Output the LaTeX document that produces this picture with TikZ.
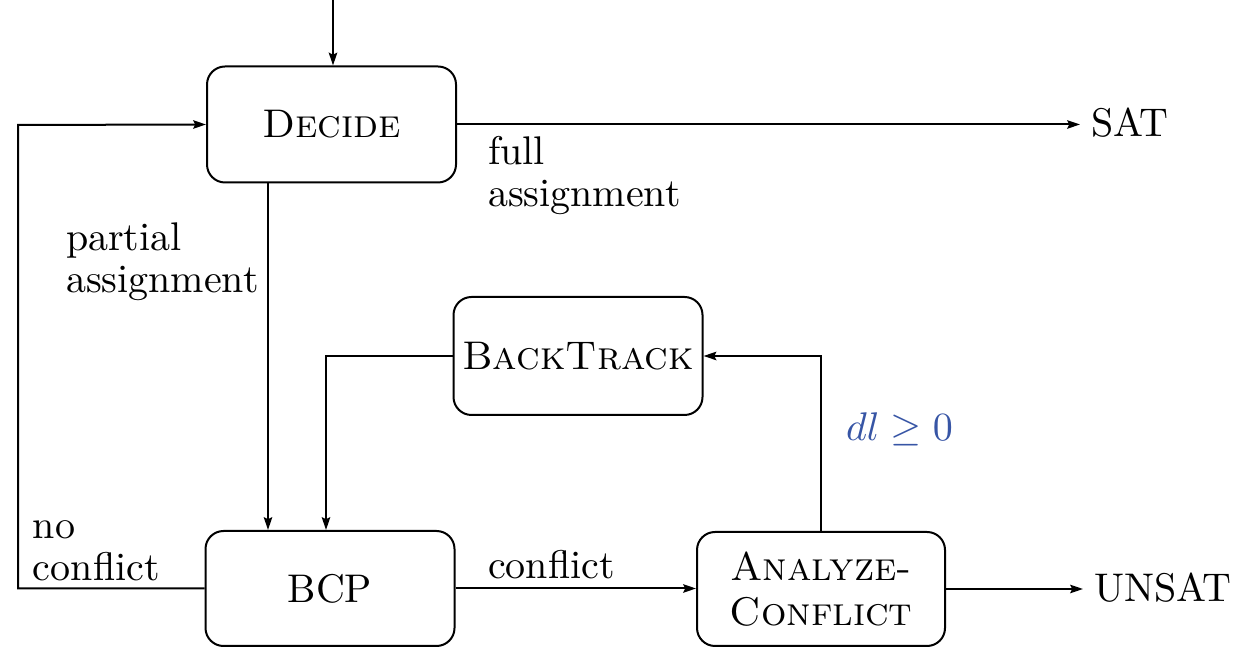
\documentclass[tikz,border=0pt]{standalone}
\usetikzlibrary{arrows.meta}
\definecolor{condblue}{RGB}{55,85,165}
\begin{document}
\begin{tikzpicture}[x=0.25pt,y=-0.25pt,
  line width=0.5pt,
  font=\fontsize{10}{10.5}\selectfont,
  flow/.style={-{Stealth[length=3.2pt,width=2.1pt,inset=0.5pt]}},
  stage/.style={draw,rounded corners=4.5pt,inner sep=0pt,align=center,
    minimum width=62.25pt,minimum height=29pt},
  lbl/.style={anchor=north west,inner sep=0pt,align=left},
  outcome/.style={anchor=west,inner sep=2.5pt}]
\useasboundingbox (0,0) rectangle (1237,648);

% solver stages
\node[stage] (decide) at (331.5,124.5) {\textsc{Decide}};
\node[stage,minimum height=29.5pt] (bt) at (578,356) {\textsc{BackTrack}};
\node[stage,minimum height=28.75pt] (bcp) at (330,588.5) {BCP};
\node[stage,minimum width=62pt,minimum height=28.5pt,
  font=\fontsize{10}{11.25}\selectfont] (an) at (821,589) {\textsc{Analyze-}\\\textsc{Conflict}};

% results
\node[outcome] (sat) at (1080,123) {SAT};
\node[outcome] (unsat) at (1083,588) {UNSAT};

% routing points
\coordinate (start) at (333,0);
\coordinate (loop) at (18,125);
\coordinate (down) at (268,0);
\coordinate (back) at (326,0);

% connectors
\draw[flow] (start) -- (start |- decide.north);
\draw[flow] (decide.east) -- (decide.east -| sat.west);
\draw[flow] (decide.south -| down) -- (bcp.north -| down);
\draw[flow] (bt.west) -| (back |- bcp.north);
\draw[flow] (bcp.west) -| (loop) -- (decide.west);
\draw[flow] (bcp.east) -- (bcp.east -| an.west);
\draw[flow] (an.north) |- (bt.east);
\draw[flow] (an.east) -- (an.east -| unsat.west);

% edge labels
\node[lbl] (lfull) at (487,135) {full\\assignment};
\node[lbl] (lpart) at (65,222) {partial\\assignment};
\node[lbl] (lnoc) at (32,520) {no\\conflict};
\node[lbl] (lconf) at (487,549) {conflict};
\node[anchor=base west,inner sep=0pt,text=condblue] (ldl) at (845,441) {$dl \geq 0$};
\end{tikzpicture}
\end{document}
